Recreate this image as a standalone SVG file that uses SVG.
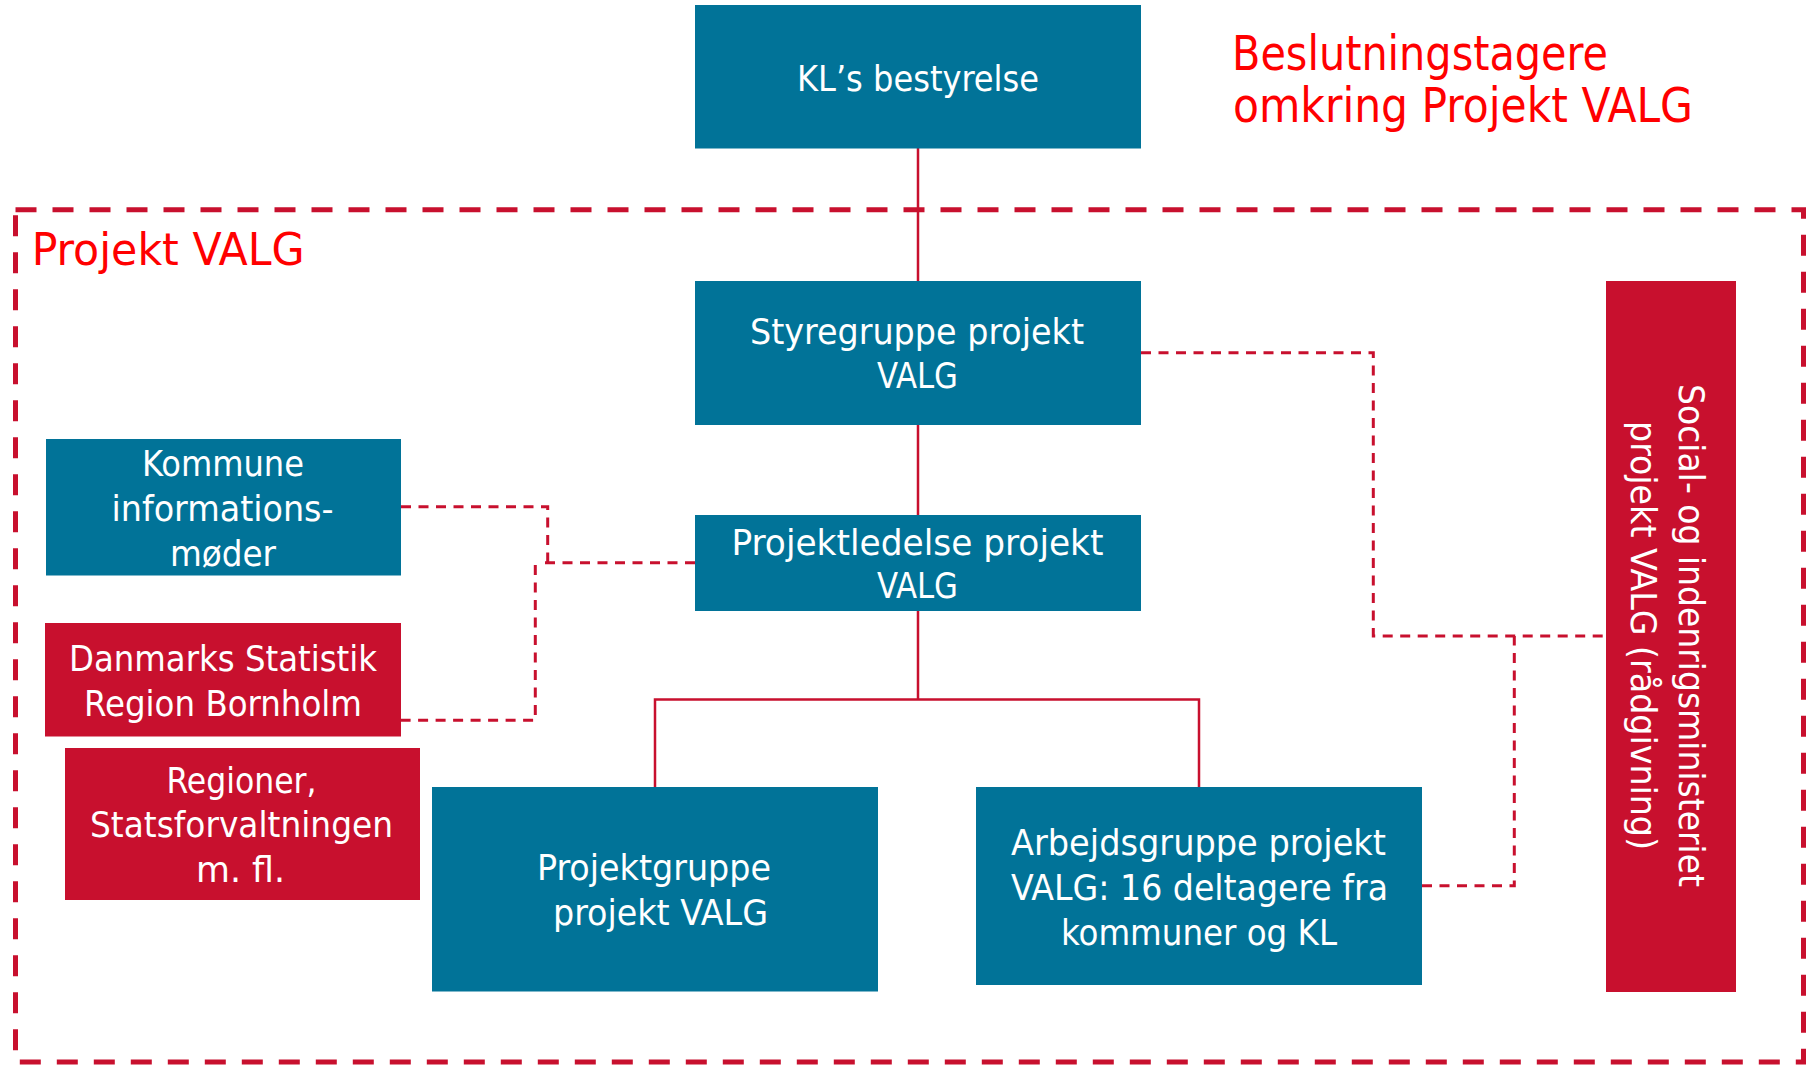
<svg xmlns="http://www.w3.org/2000/svg" width="1806" height="1067" viewBox="0 0 1806 1067">
<style>
.blue{fill:#017398}
.red{fill:#c8102e}
.t{font-family:"DejaVu Sans Condensed","DejaVu Sans",sans-serif;font-size:35px;fill:#ffffff;text-anchor:middle}
.lbl{font-family:"DejaVu Sans Condensed","DejaVu Sans",sans-serif;fill:#ff0000}
.solid{fill:none;stroke:#c8102e;stroke-width:2.5}
.dash{fill:none;stroke:#c8102e;stroke-width:3;stroke-dasharray:10 7.5}
</style>
<rect width="1806" height="1067" fill="#ffffff"/>
<g id="projekt-valg-frame">
<rect x="15.5" y="209.7" width="1788" height="852.3" fill="none" stroke="#c8102e" stroke-width="5" stroke-dasharray="21 16"/>
<text class="lbl" x="31.7" y="265" font-size="45" textLength="273" lengthAdjust="spacingAndGlyphs">Projekt VALG</text>
</g>
<g id="title">
<text class="lbl" x="1232" y="70" font-size="48" textLength="376" lengthAdjust="spacingAndGlyphs">Beslutningstagere</text>
<text class="lbl" x="1233" y="122" font-size="48" textLength="460" lengthAdjust="spacingAndGlyphs">omkring Projekt VALG</text>
</g>
<g id="connectors">
<path class="solid" d="M918 148V281M918 425V515M918 611V699.5"/>
<path class="solid" d="M655 787V699.5H1199V787" stroke-width="3"/>
<path class="dash" d="M1141 352.7H1373.3V636H1606"/>
<path class="dash" d="M1422 885.7H1514.3V636"/>
<path class="dash" d="M401 506.7H547.7V562.7"/>
<path class="dash" d="M695 562.7H541.7"/>
<path class="dash" d="M535.3 565V720.3H401"/>
</g>
<g id="kl-bestyrelse">
<rect class="blue" x="695" y="5" width="446" height="143.5"/>
<text class="t" x="918" y="91" textLength="242" lengthAdjust="spacingAndGlyphs">KL’s bestyrelse</text>
</g>
<g id="styregruppe">
<rect class="blue" x="695" y="281" width="446" height="144"/>
<text class="t" x="917" y="344" textLength="334" lengthAdjust="spacingAndGlyphs">Styregruppe projekt</text>
<text class="t" x="917.5" y="388" textLength="81" lengthAdjust="spacingAndGlyphs">VALG</text>
</g>
<g id="projektledelse">
<rect class="blue" x="695" y="515" width="446" height="96"/>
<text class="t" x="917.5" y="555" textLength="372" lengthAdjust="spacingAndGlyphs">Projektledelse projekt</text>
<text class="t" x="917.5" y="598" textLength="81" lengthAdjust="spacingAndGlyphs">VALG</text>
</g>
<g id="kommune">
<rect class="blue" x="46" y="439" width="355" height="136.5"/>
<text class="t" x="223" y="475.7" textLength="162" lengthAdjust="spacingAndGlyphs">Kommune</text>
<text class="t" x="222.5" y="520.7" textLength="222" lengthAdjust="spacingAndGlyphs">informations-</text>
<text class="t" x="223" y="565.7" textLength="106" lengthAdjust="spacingAndGlyphs">møder</text>
</g>
<g id="danmarks-statistik">
<rect class="red" x="45" y="623" width="356" height="113.5"/>
<text class="t" x="223" y="670.7" textLength="308" lengthAdjust="spacingAndGlyphs">Danmarks Statistik</text>
<text class="t" x="223" y="715.7" textLength="278" lengthAdjust="spacingAndGlyphs">Region Bornholm</text>
</g>
<g id="regioner">
<rect class="red" x="65" y="748" width="355" height="152"/>
<text class="t" x="241.5" y="793" textLength="150" lengthAdjust="spacingAndGlyphs">Regioner,</text>
<text class="t" x="241.5" y="837" textLength="303" lengthAdjust="spacingAndGlyphs">Statsforvaltningen</text>
<text class="t" x="240.5" y="882" textLength="89" lengthAdjust="spacingAndGlyphs">m. fl.</text>
</g>
<g id="projektgruppe">
<rect class="blue" x="432" y="787" width="446" height="204.5"/>
<text class="t" x="654" y="880" textLength="234" lengthAdjust="spacingAndGlyphs">Projektgruppe</text>
<text class="t" x="660.5" y="925" textLength="215" lengthAdjust="spacingAndGlyphs">projekt VALG</text>
</g>
<g id="arbejdsgruppe">
<rect class="blue" x="976" y="787" width="446" height="198"/>
<text class="t" x="1198.5" y="855" textLength="375" lengthAdjust="spacingAndGlyphs">Arbejdsgruppe projekt</text>
<text class="t" x="1199.5" y="900" textLength="377" lengthAdjust="spacingAndGlyphs">VALG: 16 deltagere fra</text>
<text class="t" x="1199" y="945" textLength="276" lengthAdjust="spacingAndGlyphs">kommuner og KL</text>
</g>
<g id="social-indenrigsministeriet">
<rect class="red" x="1606" y="281" width="130" height="711"/>
<text class="t" transform="translate(1679,635.5) rotate(90)" textLength="503" lengthAdjust="spacingAndGlyphs">Social- og indenrigsministeriet</text>
<text class="t" transform="translate(1631,635.5) rotate(90)" textLength="429" lengthAdjust="spacingAndGlyphs">projekt VALG (rådgivning)</text>
</g>
</svg>
